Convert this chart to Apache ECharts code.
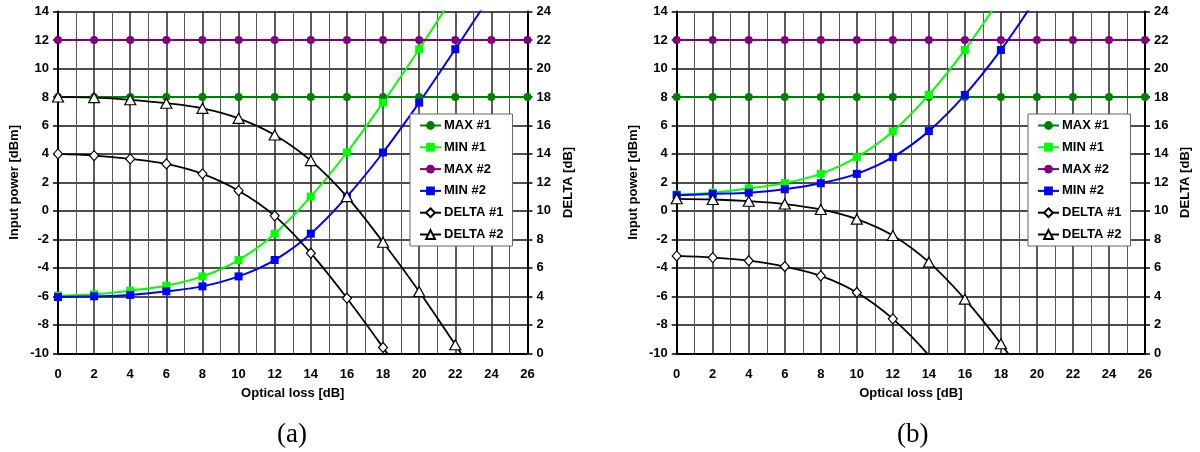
<!DOCTYPE html>
<html>
<head>
<meta charset="utf-8">
<script src="https://cdn.jsdelivr.net/npm/echarts@6/dist/echarts.min.js"></script>
<style>
html,body{margin:0;padding:0;background:#fff;}
#c{width:1200px;height:452px;}
</style>
</head>
<body>
<div id="c"></div>
<script>
// ---- data ----
var xs = [0, 2, 4, 6, 8, 10, 12, 14, 16, 18, 20, 22, 24, 26];
var xTicks = [0, 2, 4, 6, 8, 10, 12, 14, 16, 18, 20, 22, 24, 26];
var leftTicks = [-10, -8, -6, -4, -2, 0, 2, 4, 6, 8, 10, 12, 14];
var rightTicks = [0, 2, 4, 6, 8, 10, 12, 14, 16, 18, 20, 22, 24];
var seriesNames = ['MAX #1', 'MIN #1', 'MAX #2', 'MIN #2', 'DELTA #1', 'DELTA #2'];

// panel (a)
var aMax1 = [8, 8, 8, 8, 8, 8, 8, 8, 8, 8, 8, 8, 8, 8];
var aMin1 = [-5.95, -5.85, -5.6, -5.25, -4.6, -3.45, -1.6, 1.0, 4.1, 7.6, 11.35, 15.3, null, null];
var aMax2 = [12, 12, 12, 12, 12, 12, 12, 12, 12, 12, 12, 12, 12, 12];
var aMin2 = [-6.05, -6.0, -5.9, -5.65, -5.3, -4.6, -3.45, -1.6, 1.0, 4.1, 7.6, 11.35, 15.2, null];
var aDelta1 = [14.0, 13.88, 13.65, 13.3, 12.6, 11.42, 9.65, 7.03, 3.87, 0.41, -3.2, null, null, null];
var aDelta2 = [18.0, 17.95, 17.8, 17.56, 17.2, 16.5, 15.33, 13.53, 11.0, 7.8, 4.34, 0.6, -3.2, null];

// panel (b)
var bMax1 = [8, 8, 8, 8, 8, 8, 8, 8, 8, 8, 8, 8, 8, 8];
var bMin1 = [1.15, 1.28, 1.58, 1.95, 2.6, 3.77, 5.58, 8.14, 11.3, 15.0, null, null, null, null];
var bMax2 = [12, 12, 12, 12, 12, 12, 12, 12, 12, 12, 12, 12, 12, 12];
var bMin2 = [1.1, 1.19, 1.28, 1.52, 1.94, 2.6, 3.77, 5.6, 8.14, 11.3, 15.0, null, null, null];
var bDelta1 = [6.84, 6.72, 6.5, 6.09, 5.44, 4.27, 2.42, -0.15, -3.5, null, null, null, null, null];
var bDelta2 = [10.85, 10.8, 10.68, 10.48, 10.1, 9.42, 8.27, 6.4, 3.8, 0.67, -2.9, null, null, null];

var panelLabels = ['(a)', '(b)'];

// ---- build ----
function pairs(ys) {
  var out = [];
  for (var i = 0; i < xs.length; i++) if (ys[i] !== null) out.push([xs[i], ys[i]]);
  return out;
}
var FONT = '"Liberation Sans", Arial, sans-serif';
var colors = { 'MAX #1': '#008000', 'MIN #1': '#00ff00', 'MAX #2': '#800080', 'MIN #2': '#0000ff', 'DELTA #1': '#000', 'DELTA #2': '#000' };
var symbols = { 'MAX #1': 'circle', 'MIN #1': 'rect', 'MAX #2': 'circle', 'MIN #2': 'rect', 'DELTA #1': 'diamond', 'DELTA #2': 'triangle' };
var sizes = { 'MAX #1': 8, 'MIN #1': 8, 'MAX #2': 8, 'MIN #2': 8, 'DELTA #1': [9, 10], 'DELTA #2': [11, 10] };

var grids = [
  { left: 58, top: 11.5, width: 469.5, height: 341.8 },
  { left: 676.7, top: 11.5, width: 468.3, height: 341.8 }
];
var legendPos = [{ left: 410, top: 114 }, { left: 1028, top: 114 }];
var labelPos = [[293, 436], [913, 436]];

var xAxes = [], yAxes = [], series = [], legends = [], graphics = [];
[0, 1].forEach(function (p) {
  xAxes.push({
    type: 'value', gridIndex: p, min: xTicks[0], max: xTicks[xTicks.length - 1], interval: 2,
    name: 'Optical loss [dB]', nameLocation: 'middle', nameGap: 34,
    nameTextStyle: { fontFamily: FONT, fontWeight: 'bold', fontSize: 13, color: '#000' },
    axisLine: { show: true, onZero: false, lineStyle: { color: '#000', width: 2 } },
    axisTick: { show: false },
    axisLabel: { fontFamily: FONT, fontWeight: 'bold', fontSize: 13, color: '#000', margin: 15 },
    splitLine: { show: true, lineStyle: { color: '#333', width: 1.6 } },
    minorTick: { show: false, splitNumber: 2 },
    minorSplitLine: { show: true, lineStyle: { color: '#555', width: 1 } }
  });
  yAxes.push({
    type: 'value', gridIndex: p, position: 'left', min: leftTicks[0], max: leftTicks[leftTicks.length - 1], interval: 2,
    name: 'Input power [dBm]', nameLocation: 'middle', nameGap: 37, nameRotate: 90,
    nameTextStyle: { fontFamily: FONT, fontWeight: 'bold', fontSize: 13, color: '#000' },
    axisLine: { show: true, onZero: false, lineStyle: { color: '#000', width: 2 } },
    axisTick: { show: true, length: 5, lineStyle: { color: '#000', width: 1.5 } },
    axisLabel: { fontFamily: FONT, fontWeight: 'bold', fontSize: 13, color: '#000', margin: 9 },
    splitLine: { show: true, lineStyle: { color: '#111', width: 1.6 } }
  });
  yAxes.push({
    type: 'value', gridIndex: p, position: 'right', min: rightTicks[0], max: rightTicks[rightTicks.length - 1], interval: 2,
    name: 'DELTA [dB]', nameLocation: 'middle', nameGap: 34, nameRotate: 90,
    nameTextStyle: { fontFamily: FONT, fontWeight: 'bold', fontSize: 13, color: '#000' },
    axisLine: { show: true, onZero: false, lineStyle: { color: '#000', width: 2 } },
    axisTick: { show: true, length: 5, lineStyle: { color: '#000', width: 1.5 } },
    axisLabel: { fontFamily: FONT, fontWeight: 'bold', fontSize: 13, color: '#000', margin: 9 },
    splitLine: { show: false }
  });
  var dataSets = p === 0 ? [aMax1, aMin1, aMax2, aMin2, aDelta1, aDelta2] : [bMax1, bMin1, bMax2, bMin2, bDelta1, bDelta2];
  seriesNames.forEach(function (nm, i) {
    var isDelta = nm.indexOf('DELTA') === 0;
    var flat = nm.indexOf('MAX') === 0;
    series.push({
      name: nm, type: 'line', xAxisIndex: p, yAxisIndex: isDelta ? 2 * p + 1 : 2 * p,
      data: pairs(dataSets[i]),
      smooth: flat ? false : 0.35,
      clip: true,
      symbol: symbols[nm], symbolSize: sizes[nm], showAllSymbol: true,
      lineStyle: { color: colors[nm], width: isDelta ? 1.8 : 2 },
      itemStyle: isDelta ? { color: '#fff', borderColor: '#000', borderWidth: 1.2 } : { color: colors[nm], borderWidth: 0 },
      emphasis: { disabled: true },
      animation: false
    });
  });
  legends.push({
    show: true, left: legendPos[p].left, top: legendPos[p].top, orient: 'vertical',
    data: seriesNames, selectedMode: false,
    backgroundColor: '#fff', borderColor: '#666', borderWidth: 1, borderRadius: 0,
    padding: [5, 9, 5, 9], itemWidth: 21, itemHeight: 11, itemGap: 8.8,
    textStyle: { fontFamily: FONT, fontWeight: 'bold', fontSize: 13, color: '#000', padding: [0, 0, 0, -2] }
  });
  graphics.push({
    type: 'text', left: labelPos[p][0] - 16, top: labelPos[p][1] - 15,
    style: { text: panelLabels[p], font: '27px "Liberation Serif", "Times New Roman", serif', fill: '#000' }
  });
});

var chart = echarts.init(document.getElementById('c'), null, { renderer: 'canvas' });
chart.setOption({
  animation: false,
  backgroundColor: '#fff',
  grid: grids,
  xAxis: xAxes,
  yAxis: yAxes,
  legend: legends,
  series: series,
  graphic: graphics
});
</script>
</body>
</html>
